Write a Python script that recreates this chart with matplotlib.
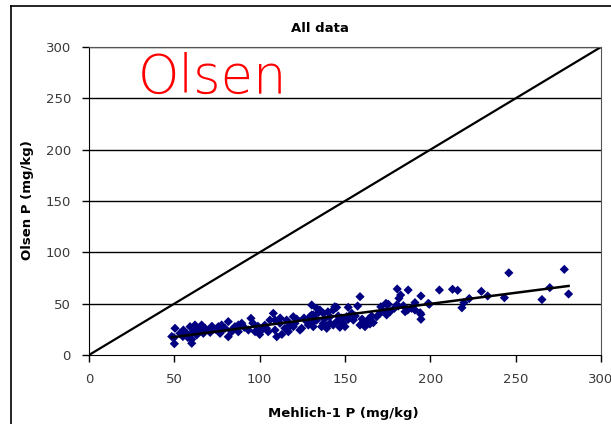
import matplotlib
matplotlib.use("Agg")
import matplotlib.pyplot as plt
import numpy as np
from matplotlib.lines import Line2D

# Mehlich-1 P vs Olsen P (mg/kg), all samples
mehlich = [
    48.5, 49.8, 50.4, 50.0, 53.3, 55.3, 57.2, 59.2, 60.2, 60.2, 61.1, 62.1, 63.1, 64.0,
    66.0, 67.0, 68.0, 69.9, 72.0, 75.8, 76.8, 77.7, 79.7, 81.6, 81.6, 83.6, 85.5, 87.5,
    87.5, 89.5, 55.0, 58.0, 65.0, 71.0, 74.0, 78.0, 84.0,
    93.4, 94.9, 97.3, 101.2, 105.0, 106.0, 108.0, 109.0, 109.0, 110.0, 111.9, 113.0,
    114.8, 115.8, 116.8, 119.7, 119.7, 121.7, 120.7, 123.6, 124.6, 127.6, 128.5, 129.5,
    130.5, 130.5, 91.0, 99.0, 103.0, 96.0, 112.0, 118.0, 126.0, 100.0, 104.0, 117.0,
    131.4, 131.4, 131.4, 130.5, 133.4, 133.4, 134.4, 135.3, 136.3, 137.3, 137.3, 139.3,
    141.2, 141.2, 143.1, 143.1, 144.0, 145.1, 145.1, 146.0, 147.0, 149.0, 150.0, 151.0,
    151.9, 151.9, 154.0, 154.9, 157.4, 158.8, 158.8, 161.7, 161.7, 163.7, 164.6, 165.6,
    166.6, 168.6, 170.5, 171.0, 172.0, 174.0, 174.4, 174.4, 175.4, 176.4, 138.0, 140.0,
    148.0, 156.0, 160.0,
    178.9, 180.3, 180.6, 181.2, 181.6, 182.6, 184.2, 185.2, 186.7, 187.0, 189.0, 191.0,
    191.0, 194.0, 194.5, 194.5, 194.5, 198.8, 199.4, 205.3, 213.0, 216.0,
    218.5, 219.7, 222.8, 229.9, 233.6, 243.4, 246.0, 265.4, 270.0, 278.5, 281.0,
]
olsen = [
    18.0, 16.9, 26.0, 11.0, 21.1, 24.3, 21.1, 27.6, 11.4, 15.3, 22.7, 29.2, 19.5, 25.0,
    29.2, 21.1, 26.0, 24.3, 28.0, 27.6, 21.1, 29.2, 26.0, 32.5, 17.8, 22.7, 27.6, 29.2,
    22.7, 30.9, 18.0, 17.0, 23.0, 22.0, 25.0, 24.0, 25.0,
    24.3, 35.7, 22.7, 24.3, 22.7, 34.0, 40.6, 34.0, 24.3, 17.8, 30.9, 20.1,
    26.0, 34.0, 22.7, 37.3, 27.6, 35.0, 30.9, 24.3, 26.0, 32.5, 29.2, 37.3,
    39.0, 48.7, 27.0, 28.0, 29.0, 31.0, 36.0, 30.0, 36.0, 20.0, 26.0, 27.0,
    39.0, 35.7, 27.6, 30.9, 34.0, 45.5, 41.2, 43.8, 27.6, 40.6, 30.9, 26.0,
    37.3, 30.9, 43.8, 29.2, 47.0, 46.4, 32.5, 38.0, 27.0, 30.9, 27.6, 37.3,
    34.8, 46.4, 40.6, 34.0, 47.7, 56.8, 29.2, 30.9, 27.6, 34.8, 30.2, 38.0,
    31.5, 37.3, 40.6, 47.0, 43.0, 50.3, 42.9, 39.0, 49.4, 42.2, 35.0, 42.0,
    36.0, 38.0, 35.0,
    45.5, 48.7, 64.3, 47.7, 55.2, 58.4, 48.0, 42.2, 43.8, 63.3, 45.5, 51.0,
    43.8, 41.2, 57.5, 39.6, 34.8, 50.3, 49.4, 63.3, 64.0, 63.0,
    46.0, 51.0, 55.0, 62.0, 57.5, 55.8, 80.0, 54.0, 65.6, 83.4, 59.4,
]

one_to_one = [0, 300]
x_ticks = [0, 50, 100, 150, 200, 250, 300]
y_ticks = [0, 50, 100, 150, 200, 250, 300]

x = np.array(mehlich)
y = np.array(olsen)
slope, intercept = np.polyfit(x, y, 1)
trend_x = np.array([x.min(), x.max()])
trend_y = slope * trend_x + intercept

fig = plt.figure(figsize=(6.11, 4.24), dpi=100)
ax = fig.add_axes([89 / 611, 1 - 355 / 424, 512 / 611, 308 / 424])

for v in y_ticks[1:]:
    ax.axhline(v, color="black", lw=1.0, zorder=1)

ax.plot(one_to_one, one_to_one, color="black", lw=1.6, zorder=2)
ax.scatter(x, y, marker="D", s=22, color="#000080", edgecolors="none", zorder=3)
ax.plot(trend_x, trend_y, color="black", lw=1.8, zorder=4)

ax.set_xlim(0, 300)
ax.set_ylim(0, 300)
ax.set_xticks(x_ticks)
ax.set_yticks(y_ticks)
ax.tick_params(direction="out", length=5, width=1, colors="black",
               labelcolor="#3a3a3a", labelsize=9.5, pad=8)
for side in ["top", "right"]:
    ax.spines[side].set_color("#555555")
for side in ["left", "bottom"]:
    ax.spines[side].set_color("black")

ax.text(28.7, 270, "Olsen", color="red", fontsize=38,
        fontweight="light", ha="left", va="center")

fig.text(320 / 611, 1 - 28 / 424, "All data", ha="center", va="center",
         fontsize=9.5, fontweight="bold")
fig.text(343 / 611, 1 - 413 / 424, "Mehlich-1 P (mg/kg)", ha="center",
         va="center", fontsize=9.5, fontweight="bold")
fig.text(28 / 611, 1 - 200 / 424, "Olsen P (mg/kg)", ha="center",
         va="center", rotation=90, fontsize=9.5, fontweight="bold")

# chart frame, running off the right and bottom edges
fig.add_artist(Line2D([11 / 611, 11 / 611], [0, 1 - 6 / 424], color="black", lw=1.2))
fig.add_artist(Line2D([11 / 611, 1], [1 - 6 / 424, 1 - 6 / 424], color="black", lw=1.2))

fig.savefig("out.png", dpi=100)
